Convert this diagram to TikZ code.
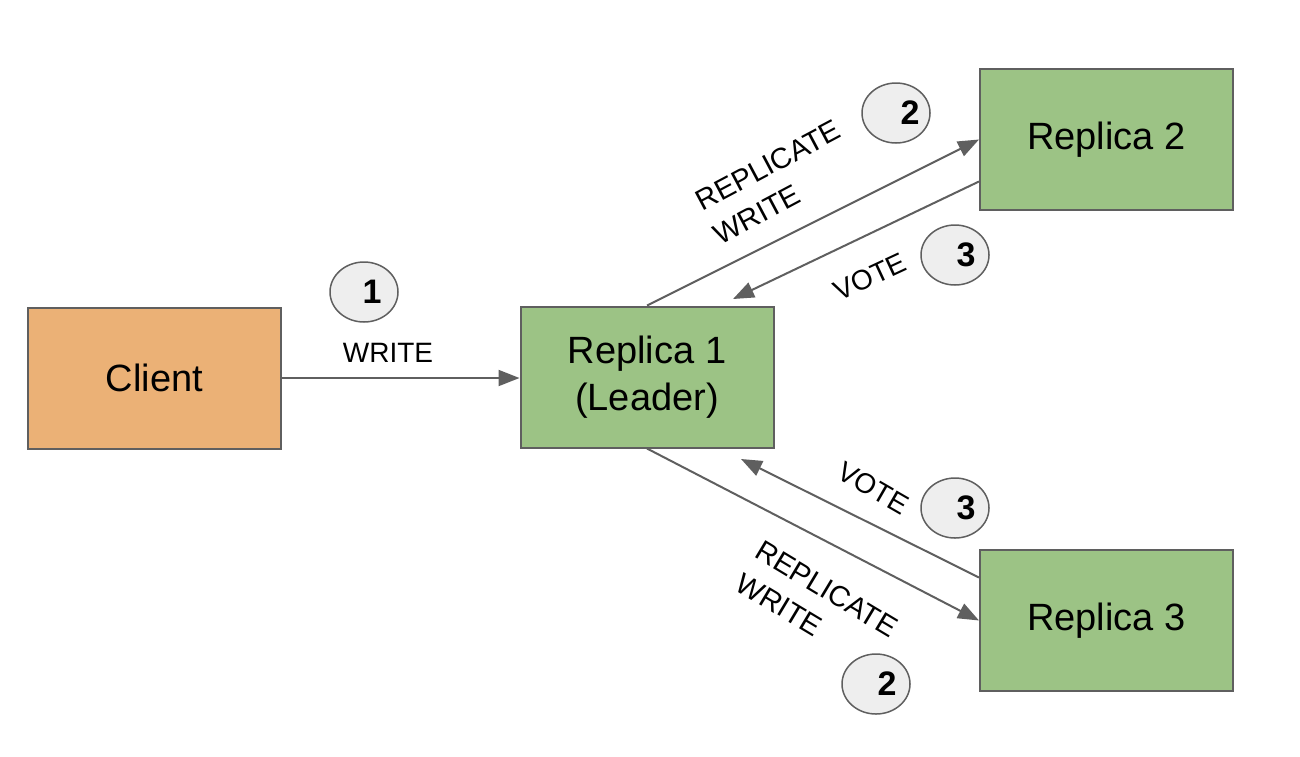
\documentclass[tikz,border=0pt]{standalone}
\usepackage{fontspec}
\setmainfont{Liberation Sans}
\usetikzlibrary{shapes.geometric,arrows.meta,calc}
\definecolor{orangefill}{RGB}{235,177,118}
\definecolor{greenfill}{RGB}{156,195,133}
\definecolor{edgegray}{RGB}{95,95,95}
\definecolor{circfill}{RGB}{238,238,238}
\tikzset{
  box/.style={draw=edgegray, line width=2pt, minimum width=253pt, minimum height=141pt, inner sep=0pt, align=center, font=\fontsize{38}{47}\selectfont},
  arr/.style={draw=edgegray, line width=2pt, -{Triangle[length=21pt,width=16pt]}},
  lbl/.style={font=\fontsize{28}{36}\selectfont, align=left, inner sep=0pt},
  replbl/.style={font=\fontsize{29}{38}\selectfont, align=left, inner sep=0pt},
  num/.style={ellipse, draw=edgegray, line width=1.5pt, fill=circfill, minimum width=68pt, minimum height=60pt, inner sep=0pt, font=\fontsize{34}{34}\selectfont\bfseries}
}
\begin{document}
\begin{tikzpicture}[x=1pt,y=-1pt]
\useasboundingbox (0,0) rectangle (1300,756);
\node[box, fill=orangefill] (client) at (154.5,378) {Client};
\node[box, fill=greenfill] (r1) at (647,377) {Replica 1\\(Leader)};
\node[box, fill=greenfill] (r2) at (1106.5,139.5) {Replica 2};
\node[box, fill=greenfill] (r3) at (1106.5,620.5) {Replica 3};

\coordinate (v1end) at (733,299);
\coordinate (v2end) at (741,459);

\draw[arr] (client.east) -- (client.east -| r1.west);
\draw[arr] (r1.north) -- (r2.west);
\draw[arr] ($(r2.west)+(0,42)$) -- (v1end);
\draw[arr] (r1.south) -- (r3.west);
\draw[arr] ($(r3.west)+(0,-43)$) -- (v2end);

\node[lbl] (lwrite) at (388,353) {WRITE};
\node[replbl, rotate=28] (lrep1) at (777,182) {REPLICATE\\WRITE};
\node[lbl, rotate=25] (lvote1) at (870,277) {VOTE};
\node[lbl, rotate=-30] (lvote2) at (873,488) {VOTE};
\node[replbl, rotate=-31] (lrep2) at (817,605) {REPLICATE\\WRITE};

\node[num] (c1) at (364,292) {\hspace{16pt}1};
\node[num] (c2a) at (896,113) {\hspace{28pt}2};
\node[num] (c3a) at (955,255) {\hspace{22pt}3};
\node[num] (c3b) at (955,508) {\hspace{22pt}3};
\node[num] (c2b) at (876,684) {\hspace{22pt}2};
\end{tikzpicture}
\end{document}
